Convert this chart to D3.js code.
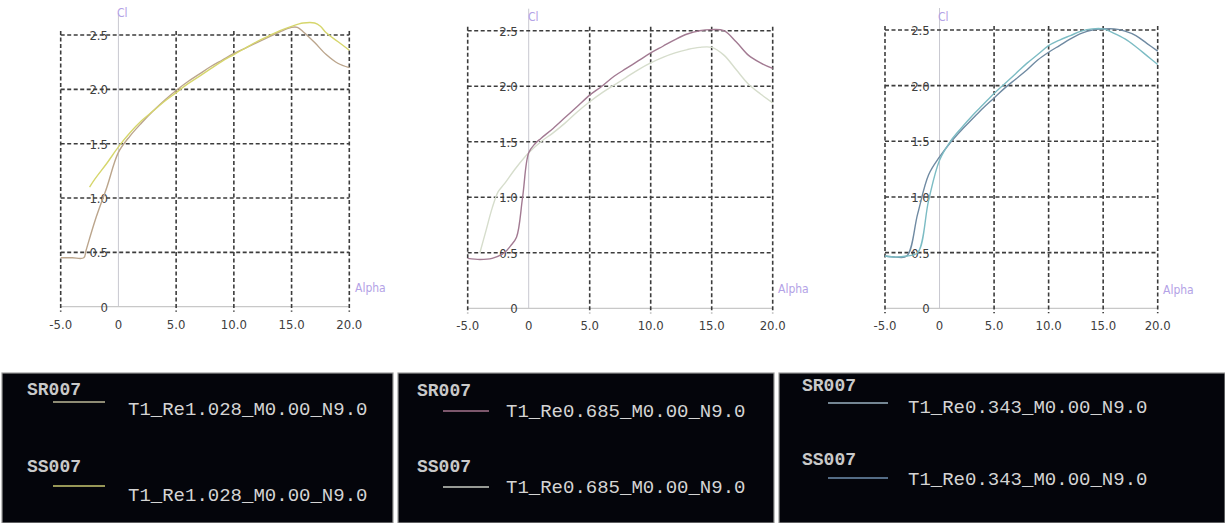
<!DOCTYPE html>
<html>
<head>
<meta charset="utf-8">
<script src="https://cdn.jsdelivr.net/npm/d3@7"></script>
<style>
  html, body { margin: 0; padding: 0; background: #ffffff; }
  svg { display: block; }
</style>
</head>
<body>
<svg id="chart" width="1225" height="523"></svg>
<script>
// ---- Axis ticks ----
const alphaTicks = [-5, 0, 5, 10, 15, 20];
const alphaTickLabels = ["-5.0", "0", "5.0", "10.0", "15.0", "20.0"];
const clTicks = [0, 0.5, 1.0, 1.5, 2.0, 2.5];
const clTickLabels = ["0", "0.5", "1.0", "1.5", "2.0", "2.5"];

// ---- Polar curves: Re = 1.028 ----
const alphaRe1028SR = [-5, -4, -3, -2.8, -2, -1, 0, 1, 2, 3, 4, 5, 6, 7, 8, 9, 10, 11, 12, 13, 14, 15, 15.5, 16, 17, 18, 19, 20];
const clRe1028SR    = [0.45, 0.45, 0.45, 0.52, 0.8, 1.1, 1.42, 1.57, 1.69, 1.8, 1.9, 1.99, 2.07, 2.14, 2.21, 2.27, 2.33, 2.38, 2.43, 2.48, 2.53, 2.57, 2.57, 2.53, 2.43, 2.32, 2.24, 2.2];
const alphaRe1028SS = [-2.5, -2, -1, 0, 1, 2, 3, 4, 5, 6, 7, 8, 9, 10, 11, 12, 13, 14, 15, 16, 17, 17.5, 18, 19, 20];
const clRe1028SS    = [1.1, 1.18, 1.32, 1.47, 1.6, 1.71, 1.8, 1.89, 1.97, 2.05, 2.12, 2.19, 2.26, 2.32, 2.38, 2.44, 2.49, 2.54, 2.58, 2.61, 2.61, 2.58, 2.52, 2.44, 2.36];

// ---- Polar curves: Re = 0.685 ----
const alphaRe0685SR = [-5, -4, -3, -2, -1.5, -1, -0.5, 0, 0.5, 1, 2, 3, 4, 5, 6, 7, 8, 9, 10, 11, 12, 13, 14, 15, 16, 17, 18, 19, 20];
const clRe0685SR    = [0.45, 0.44, 0.45, 0.5, 0.56, 0.64, 1.0, 1.4, 1.48, 1.53, 1.62, 1.72, 1.82, 1.92, 2.0, 2.09, 2.16, 2.23, 2.3, 2.36, 2.42, 2.47, 2.5, 2.51, 2.5, 2.4, 2.28, 2.21, 2.16];
const alphaRe0685SS = [-4, -3.5, -3, -2.5, -2, -1, 0, 1, 2, 3, 4, 5, 6, 7, 8, 9, 10, 11, 12, 13, 14, 15, 16, 17, 18, 19, 20];
const clRe0685SS    = [0.5, 0.7, 0.9, 1.05, 1.12, 1.27, 1.4, 1.5, 1.58, 1.67, 1.77, 1.86, 1.94, 2.01, 2.08, 2.15, 2.21, 2.26, 2.3, 2.33, 2.35, 2.35, 2.28, 2.15, 2.02, 1.93, 1.85];

// ---- Polar curves: Re = 0.343 ----
const alphaRe0343SR = [-5, -4, -3, -2, -1, 0, 1, 2, 3, 4, 5, 6, 7, 8, 9, 10, 11, 12, 13, 14, 15, 16, 17, 18, 19, 20];
const clRe0343SR    = [0.47, 0.46, 0.47, 0.5, 0.97, 1.33, 1.5, 1.62, 1.73, 1.83, 1.93, 2.02, 2.11, 2.2, 2.28, 2.36, 2.41, 2.45, 2.49, 2.51, 2.51, 2.47, 2.42, 2.35, 2.27, 2.19];
const alphaRe0343SS = [-5, -4, -3, -2, -1, 0, 1, 2, 3, 4, 5, 6, 7, 8, 9, 10, 11, 12, 13, 14, 15, 16, 17, 18, 19, 20];
const clRe0343SS    = [0.47, 0.46, 0.47, 0.85, 1.2, 1.36, 1.49, 1.6, 1.7, 1.8, 1.89, 1.98, 2.06, 2.14, 2.23, 2.3, 2.36, 2.42, 2.47, 2.5, 2.51, 2.51, 2.49, 2.45, 2.38, 2.31];

// ---- Legend text ----
const foilNames = ["SR007", "SS007"];
const polarNames = ["T1_Re1.028_M0.00_N9.0", "T1_Re0.685_M0.00_N9.0", "T1_Re0.343_M0.00_N9.0"];

// ---- Panel layout ----
const panels = [
  { x: [60.7, 349.3], y: [306.7, 35], cl: [117, 13], alphaLbl: [355, 292],
    series: [[alphaRe1028SR, clRe1028SR, "#bba58c"], [alphaRe1028SS, clRe1028SS, "#d6d66c"]] },
  { x: [467.7, 772.7], y: [308.3, 30.7], cl: [528, 17], alphaLbl: [778, 293],
    series: [[alphaRe0685SS, clRe0685SS, "#d6ddcc"], [alphaRe0685SR, clRe0685SR, "#a27a92"]] },
  { x: [885, 1157.7], y: [308.3, 30], cl: [938, 17], alphaLbl: [1163, 294],
    series: [[alphaRe0343SS, clRe0343SS, "#6f8aa2"], [alphaRe0343SR, clRe0343SR, "#7cbcc4"]] }
];

const svg = d3.select("#chart");
const tickFont = "'DejaVu Sans Condensed', 'DejaVu Sans', sans-serif";

panels.forEach(p => {
  const x = d3.scaleLinear().domain([-5, 20]).range(p.x);
  const y = d3.scaleLinear().domain([0, 2.5]).range(p.y);
  const g = svg.append("g");

  // axis lines through the origin
  g.append("line")
    .attr("x1", x(0)).attr("x2", x(0))
    .attr("y1", y(2.5) - 22).attr("y2", y(0))
    .attr("stroke", "#c8c8d0").attr("stroke-width", 1);
  g.append("line")
    .attr("x1", x(-5)).attr("x2", x(20))
    .attr("y1", y(0)).attr("y2", y(0))
    .attr("stroke", "#c8c8c8").attr("stroke-width", 1.2);

  // dashed grid
  g.selectAll("line.vgrid").data(alphaTicks.filter(d => d !== 0)).join("line")
    .attr("class", "vgrid")
    .attr("x1", d => x(d)).attr("x2", d => x(d))
    .attr("y1", y(2.5) - 4).attr("y2", y(0) + 5)
    .attr("stroke", "#3c3c3c").attr("stroke-width", 1.6)
    .attr("stroke-dasharray", "4,2.5");
  g.selectAll("line.hgrid").data(clTicks.filter(d => d !== 0)).join("line")
    .attr("class", "hgrid")
    .attr("x1", x(-5)).attr("x2", x(20))
    .attr("y1", d => y(d)).attr("y2", d => y(d))
    .attr("stroke", "#3c3c3c").attr("stroke-width", 1.6)
    .attr("stroke-dasharray", "4,2.5");

  // tick labels
  g.selectAll("text.xt").data(alphaTicks).join("text")
    .attr("class", "xt")
    .attr("x", d => x(d)).attr("y", y(0) + 22)
    .attr("text-anchor", "middle")
    .attr("font-family", tickFont).attr("font-size", 13)
    .attr("fill", "#404040")
    .text((d, i) => alphaTickLabels[i]);
  g.selectAll("text.yt").data(clTicks).join("text")
    .attr("class", "yt")
    .attr("x", x(-0.9)).attr("y", d => y(d) + 5)
    .attr("text-anchor", "end")
    .attr("font-family", tickFont).attr("font-size", 13)
    .attr("fill", "#404040")
    .text((d, i) => clTickLabels[i]);

  // axis titles
  g.append("text").attr("x", p.cl[0]).attr("y", p.cl[1] + 4)
    .attr("font-family", tickFont).attr("font-size", 12)
    .attr("fill", "#b3a2e6").text("Cl");
  g.append("text").attr("x", p.alphaLbl[0]).attr("y", p.alphaLbl[1])
    .attr("font-family", tickFont).attr("font-size", 12)
    .attr("fill", "#b3a2e6").text("Alpha");

  // polar curves
  const line = d3.line().x(d => x(d[0])).y(d => y(d[1])).curve(d3.curveCatmullRom.alpha(0.5));
  p.series.forEach(([a, c, col]) => {
    g.append("path")
      .datum(a.map((v, i) => [v, c[i]]))
      .attr("d", line)
      .attr("fill", "none")
      .attr("stroke", col)
      .attr("stroke-width", 1.4);
  });
});

// ---- Legend boxes ----
const legends = [
  { box: [2, 373, 391, 150], name: [27, 395], sw: [53, 105], r1: [402, 415], r2: [472, 486, 501], lab: 128,
    cols: ["#bdb898", "#c8c872"], text: polarNames[0] },
  { box: [398, 373, 376, 150], name: [417, 396], sw: [443, 489], r1: [411, 417], r2: [472, 487, 493], lab: 506,
    cols: ["#a4738e", "#c8ccc4"], text: polarNames[1] },
  { box: [779, 373, 446, 150], name: [802, 391], sw: [828, 888], r1: [403, 413], r2: [465, 478, 485], lab: 908,
    cols: ["#9ab2c2", "#6f8fb0"], text: polarNames[2] }
];

legends.forEach(L => {
  const g = svg.append("g");
  g.append("rect")
    .attr("x", L.box[0]).attr("y", L.box[1])
    .attr("width", L.box[2]).attr("height", L.box[3])
    .attr("fill", "#04050b").attr("stroke", "#9a9a9a").attr("stroke-width", 1.2);

  const rows = [
    { nameY: L.name[1], lineY: L.r1[0], labY: L.r1[1] },
    { nameY: L.r2[0], lineY: L.r2[1], labY: L.r2[2] }
  ];
  rows.forEach((r, i) => {
    g.append("text").attr("x", L.name[0]).attr("y", r.nameY)
      .attr("font-family", "'Liberation Mono', 'Courier New', monospace")
      .attr("font-size", 18).attr("font-weight", "bold")
      .attr("fill", "#c9c9c9").text(foilNames[i]);
    g.append("line")
      .attr("x1", L.sw[0]).attr("x2", L.sw[1])
      .attr("y1", r.lineY).attr("y2", r.lineY)
      .attr("stroke", L.cols[i]).attr("stroke-width", 1.6);
    g.append("text").attr("x", L.lab).attr("y", r.labY)
      .attr("font-family", "'Liberation Mono', 'Courier New', monospace")
      .attr("font-size", 19)
      .attr("fill", "#d4d4d4").text(L.text);
  });
});
</script>
</body>
</html>
